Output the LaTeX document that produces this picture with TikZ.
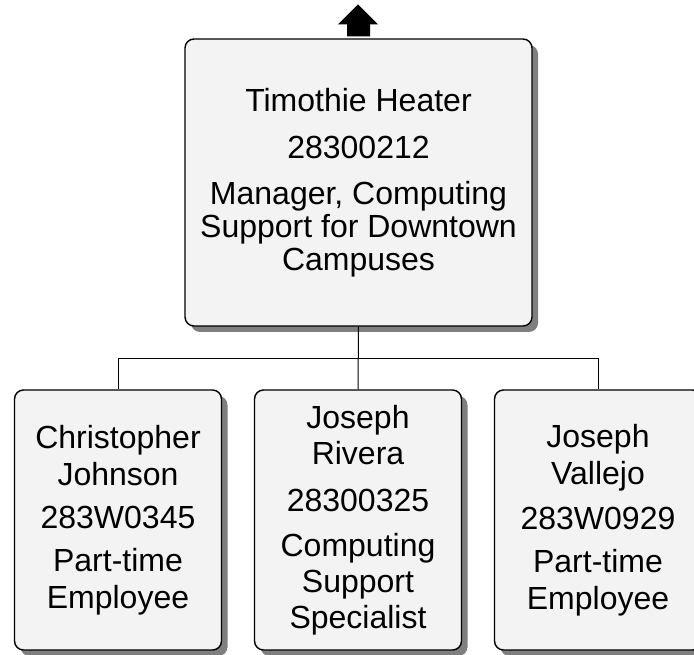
\documentclass[tikz,border=0pt]{standalone}
\usepackage{fontspec}
\setmainfont{Liberation Sans}
\usetikzlibrary{shadows,calc}
\definecolor{boxfill}{HTML}{F3F3F3}
\definecolor{shadowgray}{HTML}{7F7F7F}
\tikzset{
  orgbox/.style={draw=black, line width=1.4pt, fill=boxfill, rounded corners=9pt,
    align=center, inner sep=0pt,
    drop shadow={shadow xshift=6pt, shadow yshift=-6pt, fill=shadowgray, opacity=1},
    font=\fontsize{32}{33}\selectfont},
  lowbox/.style={orgbox, minimum width=207pt, minimum height=260pt,
    font=\fontsize{32}{37}\selectfont},
  link/.style={draw=black, line width=1pt}
}
\begin{document}
\begin{tikzpicture}[x=1pt,y=-1pt]
\useasboundingbox (0,0) rectangle (694,655);
\node[orgbox, minimum width=347pt, minimum height=287pt] (top) at (358.5,182.5)
  {Timothie Heater\\[14pt] 28300212\\[13pt] Manager, Computing\\ Support for Downtown\\ Campuses};
\node[lowbox] (c1) at (118,520)
  {Christopher\\ Johnson\\[6pt] 283W0345\\[6pt] Part-time\\ Employee};
\node[lowbox, font=\fontsize{32}{36}\selectfont] (c2) at (358,520)
  {Joseph\\ Rivera\\[11pt] 28300325\\[9pt] Computing\\ Support\\ Specialist};
\node[lowbox] (c3) at (598,520)
  {Joseph\\ Vallejo\\[8pt] 283W0929\\[6pt] Part-time\\ Employee};
\coordinate (bus) at ($(top.south)+(0,32)$);
\draw[link] (top.south) -- (c2.north);
\draw[link] (c1.north) -- (c1.north |- bus) -- (c3.north |- bus) -- (c3.north);
\fill[black] ($(top.north)+(-11.5,-2)$) -- ++(0,-12) -- ++(-9,0) -- ++(20,-20)
  -- ++(20,20) -- ++(-8,0) -- ++(0,12) -- cycle;
\end{tikzpicture}
\end{document}
